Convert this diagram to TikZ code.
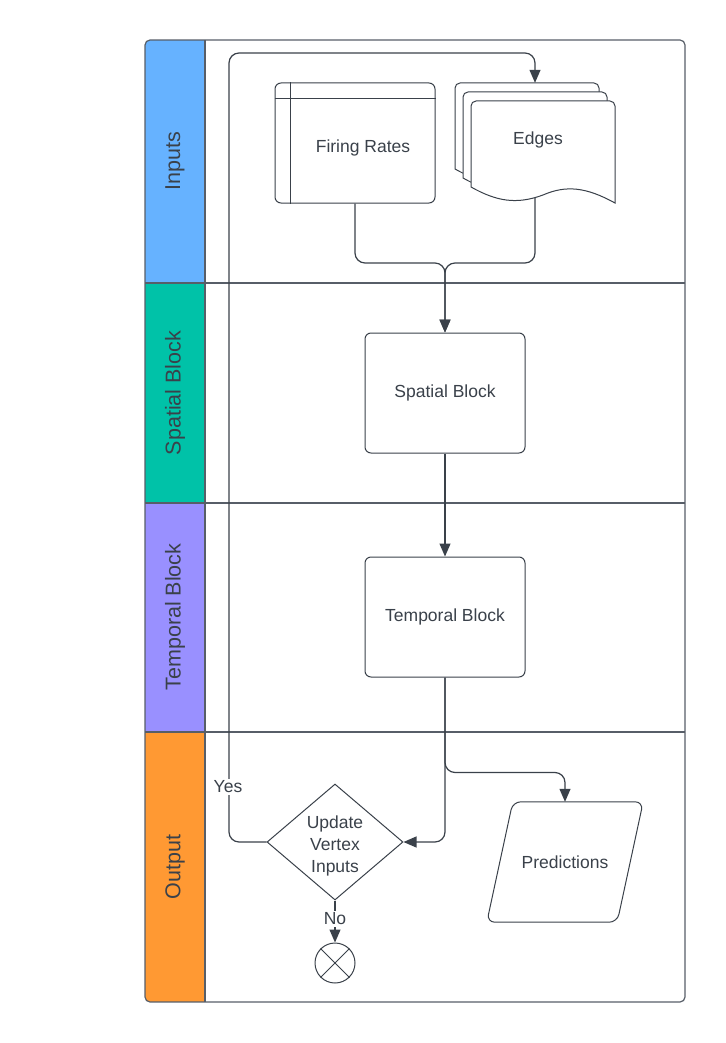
\documentclass[tikz,border=0pt]{standalone}
\usepackage{fontspec}
\setmainfont{Liberation Sans}
\usetikzlibrary{calc,arrows.meta,shapes.geometric}
\definecolor{ink}{HTML}{3A414A}
\definecolor{laneline}{HTML}{575E68}
\definecolor{inputc}{HTML}{66B2FF}
\definecolor{spatialc}{HTML}{00C2A8}
\definecolor{temporalc}{HTML}{9990FF}
\definecolor{outputc}{HTML}{FF9933}

\begin{document}
\begin{tikzpicture}[x=1pt, y=-1pt, font=\fontsize{17.5}{22}\selectfont,
  box/.style={draw=ink, line width=1pt, fill=white, rounded corners=6,
    minimum width=160, minimum height=120, text=ink},
  flow/.style={draw=ink, line width=1.2pt, -{Triangle[length=13pt,width=11pt]}},
  lane/.style={draw=laneline, line width=1.2pt},
  lanetxt/.style={rotate=90, font=\fontsize{21.5}{26}\selectfont, text=ink},
  txt/.style={text=ink, inner sep=2pt}]

  \useasboundingbox (0,0) rectangle (725,1043);

  % swimlane headers
  \begin{scope}
    \clip[rounded corners=5] (145,40) rectangle (685,1002);
    \fill[inputc] (145,40) rectangle (205,283);
    \fill[spatialc] (145,283) rectangle (205,503);
    \fill[temporalc] (145,503) rectangle (205,732);
    \fill[outputc] (145,732) rectangle (205,1002);
  \end{scope}
  \draw[lane, rounded corners=5] (145,40) rectangle (685,1002);
  \draw[lane] (205,40) -- (205,1002);
  \foreach \y in {283,503,732}
    \draw[lane] (145,\y) -- (685,\y);

  \node[lanetxt] (lbinputs) at (175,161) {Inputs};
  \node[lanetxt] (lbspatial) at (175,393) {Spatial Block};
  \node[lanetxt] (lbtemporal) at (175,617) {Temporal Block};
  \node[lanetxt] (lboutput) at (175,867) {Output};

  % Inputs
  \node[box] (firing) at (355,143) {};
  \draw[draw=ink, line width=1pt] ($(firing.north west)+(16,0)$) -- ($(firing.south west)+(16,0)$);
  \draw[draw=ink, line width=1pt] ($(firing.north west)+(0,16)$) -- ($(firing.north east)+(0,16)$);
  \node[txt] (firingtxt) at (363,148) {Firing Rates};

  \node[minimum width=160, minimum height=115, inner sep=0] (edges) at (535,140.5) {};
  \foreach \dx/\dy in {0/0, 8/9, 16/18}
    \draw[draw=ink, line width=1pt, fill=white, shift={(455+\dx,83+\dy)}]
      (0,86) [rounded corners=5] -- (0,0) -- (144,0) [sharp corners] -- (144,102)
      .. controls (115,86) and (95,84) .. (72,94)
      .. controls (45,104) and (25,100) .. (0,86) -- cycle;
  \node[txt] (edgestxt) at (538,140) {Edges};

  % Spatial and temporal blocks
  \node[box] (spatial) at (445,393) {Spatial Block};
  \node[box] (temporal) at (445,617) {Temporal Block};

  % Output
  \node[draw=ink, line width=1pt, fill=white, diamond, inner sep=0,
    minimum width=136, minimum height=116] (update) at (335,842) {};
  \node[txt, align=center] (updatetxt) at (335,846) {Update\\Vertex\\Inputs};
  \node[draw=ink, line width=1pt, circle, minimum size=40, inner sep=0] (endc) at (335,963) {};
  \draw[draw=ink, line width=1pt] (endc.north west) -- (endc.south east)
    (endc.north east) -- (endc.south west);

  \node[minimum width=130, minimum height=120, inner sep=0, text=ink] (pred) at (565,862) {Predictions};
  \draw[draw=ink, line width=1pt, rounded corners=8]
    ($(pred.north west)+(13,0)$) -- ($(pred.north east)+(13,0)$)
    -- ($(pred.south east)+(-13,0)$) -- ($(pred.south west)+(-13,0)$) -- cycle;

  % connectors
  \coordinate (merge) at (445,263);
  \coordinate (loop) at (229,53);
  \draw[flow, rounded corners=10] (firing.south) |- (merge) -- (spatial.north);
  \draw[flow, rounded corners=10] (edges.south) |- (merge) -- (spatial.north);
  \draw[flow] (spatial) -- (temporal);
  \draw[flow, rounded corners=10] (temporal.south) |- (update.east);
  \draw[flow, rounded corners=10] (temporal.south) -- ++(0,95) -| (pred.north);
  \draw[flow, rounded corners=10] (update.west) -| (loop) -| (edges.north);
  \node[txt, fill=white] (yes) at (228,787) {Yes};
  \draw[flow] (update.south) -- (endc.north);
  \node[txt, fill=white] (no) at (335,919) {No};

\end{tikzpicture}
\end{document}
